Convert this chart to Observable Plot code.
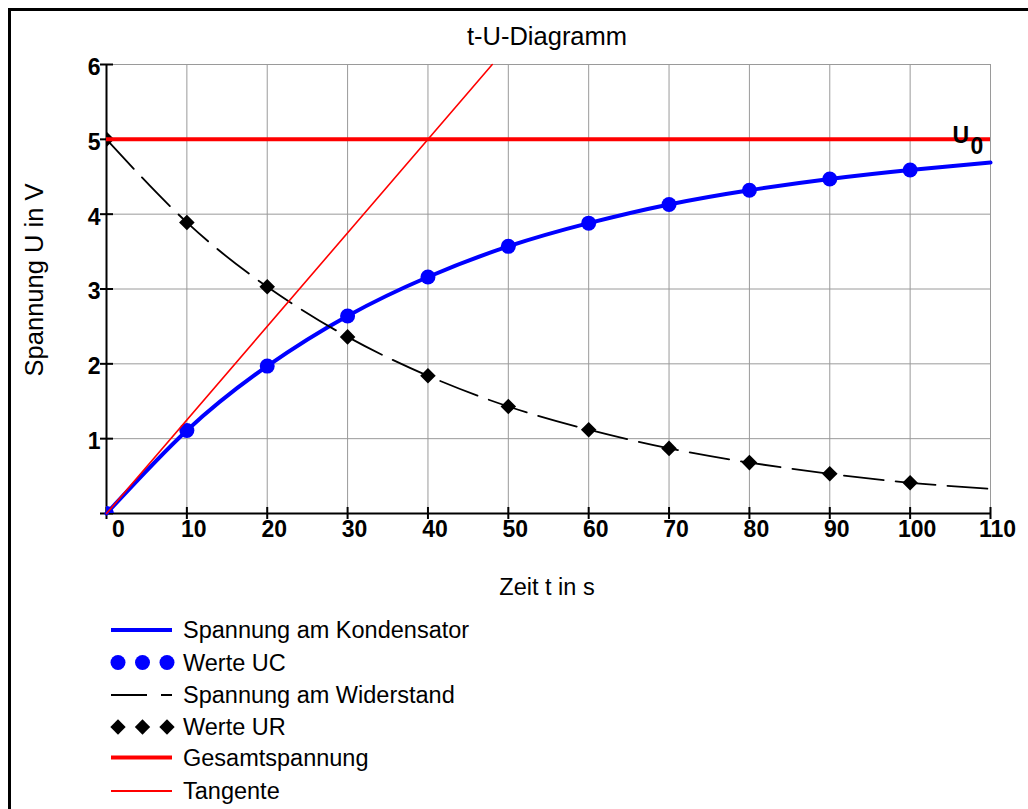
<!DOCTYPE html>
<html>
<head>
<meta charset="utf-8">
<script src="https://cdn.jsdelivr.net/npm/d3@7"></script>
<script src="https://cdn.jsdelivr.net/npm/@observablehq/plot@0.6"></script>
<style>
  html, body { margin: 0; padding: 0; background: #fff; }
  body { width: 1028px; height: 809px; position: relative; overflow: hidden; font-family: "Liberation Sans", Arial, sans-serif; }
  #frame { position: absolute; left: 8px; top: 8px; width: 1200px; height: 1000px; border-top: 3px solid #000; border-left: 3px solid #000; }
  #chart { position: absolute; left: 0; top: 0; }
  .lbl { position: absolute; color: #000; white-space: nowrap; }
  #title { left: 547px; top: 36px; font-size: 25.5px; transform: translate(-50%, -50%); }
  #xlabel { left: 547px; top: 587px; font-size: 23.5px; transform: translate(-50%, -50%); }
  #ylabel { left: 34px; top: 280px; font-size: 25.5px; transform: translate(-50%, -50%) rotate(-90deg); }
  #legend { position: absolute; left: 0; top: 610px; }
</style>
</head>
<body>
<div id="frame"></div>
<div id="chart"></div>
<div class="lbl" id="title">t-U-Diagramm</div>
<div class="lbl" id="xlabel">Zeit t in s</div>
<div class="lbl" id="ylabel">Spannung U in V</div>
<div id="legend"></div>
<script>
// ---- data ----
const tValues = [0, 10, 20, 30, 40, 50, 60, 70, 80, 90, 100];
const ucValues = [0, 1.11, 1.97, 2.64, 3.16, 3.57, 3.88, 4.13, 4.32, 4.47, 4.59];
const urValues = [5, 3.89, 3.03, 2.36, 1.84, 1.43, 1.12, 0.87, 0.68, 0.53, 0.41];
const tCurve = [0, 10, 20, 30, 40, 50, 60, 70, 80, 90, 100, 110];
const ucCurve = [0, 1.11, 1.97, 2.64, 3.16, 3.57, 3.88, 4.13, 4.32, 4.47, 4.59, 4.69];
const urCurve = [5, 3.89, 3.03, 2.36, 1.84, 1.43, 1.12, 0.87, 0.68, 0.53, 0.41, 0.33];
const u0Value = 5;
const tangentT = [0, 48];
const tangentU = [0, 6];
const xTicks = [0, 10, 20, 30, 40, 50, 60, 70, 80, 90, 100, 110];
const yTicks = [0, 1, 2, 3, 4, 5, 6];
const legendLabels = ["Spannung am Kondensator", "Werte UC", "Spannung am Widerstand", "Werte UR", "Gesamtspannung", "Tangente"];

// ---- tables built from the arrays ----
const ucPoints = tValues.map((t, i) => ({t, u: ucValues[i]}));
const urPoints = tValues.map((t, i) => ({t, u: urValues[i]}));
const ucLine = tCurve.map((t, i) => ({t, u: ucCurve[i]}));
const urLine = tCurve.map((t, i) => ({t, u: urCurve[i]}));
const tangent = tangentT.map((t, i) => ({t, u: tangentU[i]}));

const BLUE = "#0000ff", RED = "#ff0000", GRID = "#9a9a9a";
const font = "Liberation Sans, Arial, sans-serif";

const chart = Plot.plot({
  width: 1028,
  height: 600,
  marginLeft: 106,
  marginRight: 38,
  marginTop: 64,
  marginBottom: 87,
  style: {fontFamily: font, background: "transparent"},
  x: {domain: [0, 110], axis: null},
  y: {domain: [0, 6], axis: null},
  marks: [
    // grid
    Plot.ruleX(xTicks.filter(d => d > 0), {x: d => d, stroke: GRID, strokeWidth: 1}),
    Plot.ruleY(yTicks.filter(d => d > 0), {y: d => d, stroke: GRID, strokeWidth: 1}),
    // axis lines
    Plot.ruleX([0], {x: d => d, stroke: "#000", strokeWidth: 2}),
    Plot.ruleY([0], {y: d => d, stroke: "#000", strokeWidth: 2}),
    // tick marks crossing the axes
    Plot.ruleX(xTicks, {x: d => d, y1: () => 0, y2: () => 0, insetTop: -6, insetBottom: -6, stroke: "#000", strokeWidth: 2}),
    Plot.ruleY(yTicks, {y: d => d, x1: () => 0, x2: () => 0, insetLeft: -6, insetRight: -7, stroke: "#000", strokeWidth: 2}),
    // tick labels
    Plot.text(xTicks.filter(d => d > 0), {x: d => d, frameAnchor: "bottom", dy: 23, dx: 7, text: d => String(d), fontSize: 23, fontWeight: "bold", fill: "#000"}),
    Plot.text([0], {x: d => d, frameAnchor: "bottom", dy: 23, dx: 12, text: d => String(d), fontSize: 23, fontWeight: "bold", fill: "#000"}),
    Plot.text(yTicks.filter(d => d > 0), {y: d => d, frameAnchor: "left", dx: -6, dy: 3, textAnchor: "end", text: d => String(d), fontSize: 23, fontWeight: "bold", fill: "#000"}),
    // capacitor voltage
    Plot.line(ucLine, {x: "t", y: "u", curve: "natural", stroke: BLUE, strokeWidth: 4}),
    Plot.dot(ucPoints, {x: "t", y: "u", r: 7.5, fill: BLUE, clip: true}),
    // resistor voltage
    Plot.line(urLine, {x: "t", y: "u", curve: "natural", stroke: "#000", strokeWidth: 1.8, strokeDasharray: "40,12"}),
    Plot.dot(urPoints, {x: "t", y: "u", symbol: "diamond2", r: 7, fill: "#000", clip: true}),
    // total voltage
    Plot.ruleY([u0Value], {y: d => d, stroke: RED, strokeWidth: 4}),
    // tangent
    Plot.line(tangent, {x: "t", y: "u", stroke: RED, strokeWidth: 1.6}),
    // U0 label
    Plot.text([u0Value], {x: () => 110, y: d => d, text: () => "U", dx: -38, dy: -4, textAnchor: "start", fontSize: 23, fontWeight: "bold", fill: "#000"}),
    Plot.text([u0Value], {x: () => 110, y: d => d, text: () => "0", dx: -20, dy: 7, textAnchor: "start", fontSize: 23, fontWeight: "bold", fill: "#000"})
  ]
});
document.getElementById("chart").appendChild(chart);

// ---- legend ----
const lg = d3.select("#legend").append("svg").attr("width", 520).attr("height", 199)
  .style("font-family", font);
const rowY = [20, 52.5, 85, 117, 147.5, 181];
const x0 = 111, x1 = 172, mx = [118, 142.5, 167];
lg.append("line").attr("x1", x0).attr("x2", x1).attr("y1", rowY[0]).attr("y2", rowY[0]).attr("stroke", BLUE).attr("stroke-width", 4);
mx.forEach(x => lg.append("circle").attr("cx", x).attr("cy", rowY[1]).attr("r", 7.5).attr("fill", BLUE));
lg.append("line").attr("x1", x0).attr("x2", x1).attr("y1", rowY[2]).attr("y2", rowY[2]).attr("stroke", "#000").attr("stroke-width", 1.8).attr("stroke-dasharray", "36,14");
mx.forEach(x => lg.append("path").attr("d", d3.symbol(d3.symbolDiamond2, 150)()).attr("transform", `translate(${x},${rowY[3]})`).attr("fill", "#000"));
lg.append("line").attr("x1", x0).attr("x2", x1).attr("y1", rowY[4]).attr("y2", rowY[4]).attr("stroke", RED).attr("stroke-width", 4);
lg.append("line").attr("x1", x0).attr("x2", x1).attr("y1", rowY[5]).attr("y2", rowY[5]).attr("stroke", RED).attr("stroke-width", 2);
legendLabels.forEach((s, i) => lg.append("text").attr("x", 183).attr("y", rowY[i]).attr("dy", "0.36em").attr("font-size", 23.5).attr("fill", "#000").text(s));
</script>
</body>
</html>
